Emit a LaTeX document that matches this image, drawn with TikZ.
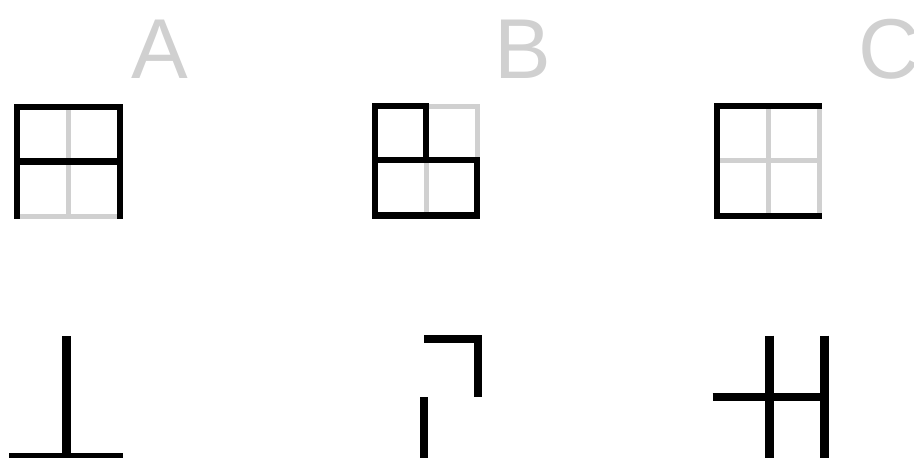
\documentclass[tikz,border=0pt]{standalone}
\usepackage{fontspec}
\setmainfont{Liberation Sans}
\definecolor{lg}{RGB}{208,208,208}
\begin{document}
\begin{tikzpicture}[x=1pt,y=-1pt,
  blk/.style={line width=6.6pt, line cap=rect, line join=miter, black},
  gry/.style={line width=5pt, draw=lg},
  blkb/.style={line width=8.3pt, line cap=butt, line join=miter, black},
  lbl/.style={font=\fontsize{85}{85}\selectfont, text=lg, inner sep=0pt, anchor=base west}]
\useasboundingbox (0,0) rectangle (914,458);
% labels
\node[lbl] (la) at (131,78) {A};
\node[lbl] (lb) at (494,78) {B};
\node[lbl] (lc) at (858,78) {C};
% grid A
\draw[gry] (68.5,107) -- (68.5,216);
\draw[gry] (17,216) -- (120,216);
\draw[blk] (17,216) -- (17,107) -- (120,107) -- (120,216);
\draw[blk] (17,161.5) -- (120,161.5);
% grid B
\draw[gry] (426,106) -- (477,106) -- (477,160);
\draw[gry] (426,160) -- (426,215.5);
\draw[blk] (426,160) -- (426,106) -- (375,106) -- (375,215.5) -- (477,215.5) -- (477,160) -- (375,160);
% grid C
\draw[gry] (768,106) -- (768,216);
\draw[gry] (717,160.5) -- (819,160.5);
\draw[gry] (819,106) -- (819,216);
\draw[blk] (819,106) -- (717,106) -- (717,216) -- (819,216);
% bottom A
\draw[blkb] (66.5,336) -- (66.5,462);
\draw[blkb] (9.3,456.8) -- (123.3,456.8);
% bottom B
\draw[blkb] (424,339.2) -- (478.3,339.2) -- (478.3,397.3);
\draw[blkb] (424.2,397.3) -- (424.2,462);
% bottom C
\draw[blkb] (712.7,397.2) -- (824.5,397.2);
\draw[blkb] (769.5,335.7) -- (769.5,462);
\draw[blkb] (824.5,335.7) -- (824.5,462);
\end{tikzpicture}
\end{document}
